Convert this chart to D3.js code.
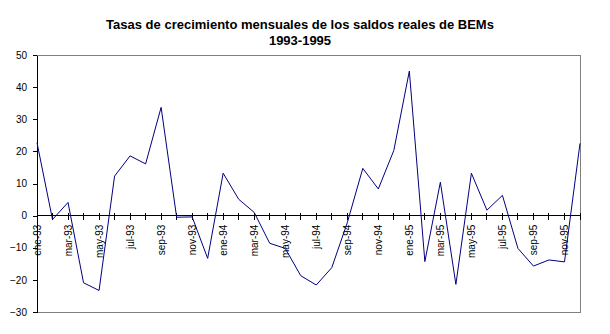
<!DOCTYPE html>
<html><head><meta charset="utf-8">
<script src="https://cdn.jsdelivr.net/npm/d3@7"></script>
<style>body{margin:0;background:#fff}svg{display:block}</style>
</head><body>
<svg id="c" width="610" height="334"></svg>
<script>
const months = ["ene","feb","mar","abr","may","jun","jul","ago","sep","oct","nov","dic"];
const years = ["93","94","95"];
const categories = [];
years.forEach(y => months.forEach(m => categories.push(m + "-" + y)));
const values = [22.7,-1.2,4.1,-20.9,-23.3,12.3,18.6,16.1,33.7,-0.5,-0.4,-13.3,
                13.2,5.1,1.0,-8.6,-10.2,-18.7,-21.6,-16.2,-2.2,14.7,8.3,20.3,
                45.0,-14.3,10.4,-21.4,13.2,1.7,6.3,-10.2,-15.7,-13.8,-14.4,22.5];
const yTicks = [-30,-20,-10,0,10,20,30,40,50];
const titleLines = ["Tasas de crecimiento mensuales de los saldos reales de BEMs","1993-1995"];

const svg = d3.select("#c");
const L = 37, R = 580, T = 55, B = 312;
const x = d3.scalePoint().domain(categories).range([L, R]);
const y = d3.scaleLinear().domain([-30, 50]).range([B, T]);
const font = "Arial, 'Liberation Sans', sans-serif";

// title
svg.selectAll("text.title").data(titleLines).join("text")
  .attr("x", 300).attr("y", (d,i) => 29 + i*16)
  .attr("text-anchor","middle").attr("font-family", font)
  .attr("font-size", 13).attr("font-weight","bold").text(d => d);

// plot border (grey)
svg.append("path")
  .attr("d", `M${L},${T}H${R}V${B}H${L}`)
  .attr("fill","none").attr("stroke","#808080").attr("stroke-width",1)
  .attr("shape-rendering","crispEdges");

// y axis
const yAxis = svg.append("g").attr("transform", `translate(${L},0)`)
  .call(d3.axisLeft(y).tickValues(yTicks).tickSize(4).tickPadding(6).tickSizeOuter(0));
yAxis.select(".domain").attr("stroke","#000").attr("shape-rendering","crispEdges");
yAxis.selectAll(".tick line").attr("stroke","#000").attr("shape-rendering","crispEdges");
yAxis.selectAll("text").attr("font-family", font).attr("font-size", 10).attr("fill","#000");

// x axis at zero
const y0 = y(0);
const xg = svg.append("g");
xg.append("line").attr("x1", L).attr("x2", R).attr("y1", y0).attr("y2", y0)
  .attr("stroke","#000").attr("shape-rendering","crispEdges");
xg.selectAll("line.tk").data(categories).join("line").attr("class","tk")
  .attr("x1", d => x(d)).attr("x2", d => x(d))
  .attr("y1", y0 - 3).attr("y2", y0 + 4)
  .attr("stroke","#000").attr("shape-rendering","crispEdges");
xg.selectAll("text").data(categories.filter((d,i) => i % 2 === 0)).join("text")
  .attr("transform", d => `translate(${x(d)+3.5},${y0 + 9}) rotate(-90)`)
  .attr("text-anchor","end").attr("font-family", font).attr("font-size", 10)
  .text(d => d);

// line
svg.append("path").datum(values)
  .attr("fill","none").attr("stroke","#000080").attr("stroke-width",1)
  .attr("d", d3.line().x((d,i) => x(categories[i])).y(d => y(d)));
</script>
</body></html>
